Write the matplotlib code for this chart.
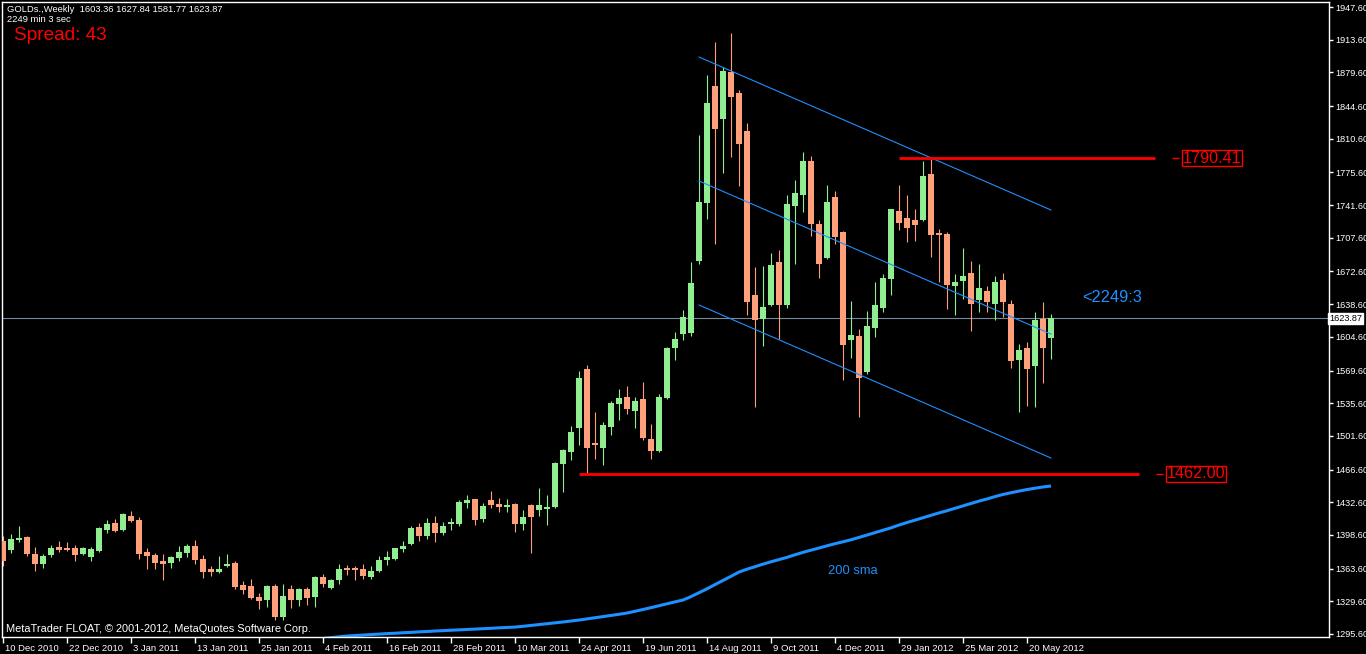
import matplotlib
matplotlib.use("Agg")
import matplotlib.pyplot as plt
import matplotlib.transforms as mtransforms

plt.rcParams["font.family"] = ["Liberation Sans", "DejaVu Sans"]

# Weekly OHLC, bar 0 = 10 Dec 2010, last bar = current week
opens = [
    1392.3, 1382.9, 1393.3, 1396.4, 1378.7, 1368.3, 1377.7, 1386.0, 1385.0, 1385.0,
    1378.7, 1375.6, 1381.9, 1403.7, 1411.0, 1403.7, 1418.3, 1414.1, 1380.8, 1377.7,
    1371.5, 1369.4, 1374.6, 1379.8, 1387.1, 1373.5, 1363.1, 1360.0, 1366.3, 1369.4,
    1346.5, 1345.5, 1334.0, 1330.9, 1345.5, 1313.2, 1342.3, 1330.9, 1342.3, 1334.0,
    1354.8, 1343.4, 1351.7, 1364.2, 1364.2, 1363.1, 1354.8, 1361.1, 1372.5, 1373.5,
    1383.9, 1389.1, 1406.8, 1397.5, 1411.0, 1400.6, 1409.9, 1409.9, 1431.8, 1436.0,
    1415.1, 1434.9, 1430.8, 1427.6, 1430.8, 1409.9, 1429.7, 1424.5, 1425.5, 1427.6,
    1472.3, 1484.8, 1509.8, 1571.1, 1494.2, 1489.0, 1510.8, 1534.7, 1542.0, 1527.5,
    1539.9, 1498.3, 1485.9, 1541.0, 1593.0, 1607.5, 1608.6, 1683.5, 1743.8, 1865.5,
    1831.1, 1880.0, 1858.2, 1818.7, 1648.1, 1623.1, 1637.7, 1682.4, 1637.7, 1740.7,
    1752.1, 1787.5, 1721.9, 1686.6, 1750.0, 1713.6, 1601.3, 1605.5, 1568.0, 1613.8,
    1634.6, 1664.7, 1735.5, 1728.2, 1726.1, 1726.1, 1773.9, 1711.5, 1711.5, 1657.5,
    1662.7, 1671.0, 1642.9, 1652.3, 1638.7, 1663.7, 1638.7, 1580.5, 1593.0, 1574.3,
    1623.1, 1603.36,
]
highs = [
    1397.5, 1399.5, 1407.9, 1397.5, 1386.0, 1378.7, 1388.1, 1392.3, 1391.2, 1388.1,
    1386.0, 1386.0, 1406.8, 1414.1, 1415.1, 1421.4, 1423.5, 1417.2, 1385.0, 1379.8,
    1378.7, 1376.7, 1387.1, 1389.1, 1393.3, 1377.7, 1366.3, 1376.7, 1378.7, 1371.5,
    1350.7, 1352.8, 1338.2, 1346.5, 1347.5, 1347.5, 1346.5, 1343.4, 1344.4, 1355.9,
    1357.9, 1352.8, 1368.3, 1367.3, 1366.3, 1368.3, 1366.3, 1376.7, 1381.9, 1385.5,
    1392.3, 1407.9, 1411.0, 1416.2, 1418.3, 1412.0, 1416.2, 1434.9, 1440.1, 1436.5,
    1431.8, 1444.3, 1437.0, 1436.0, 1431.8, 1424.5, 1430.8, 1447.4, 1440.1, 1474.4,
    1487.9, 1511.9, 1569.1, 1575.3, 1526.4, 1516.0, 1537.9, 1550.3, 1553.5, 1542.0,
    1557.6, 1513.9, 1545.1, 1594.0, 1609.6, 1632.5, 1682.4, 1814.5, 1876.9, 1911.2,
    1885.2, 1920.6, 1861.3, 1827.0, 1677.2, 1678.3, 1691.8, 1694.9, 1752.1, 1767.7,
    1796.8, 1792.7, 1726.1, 1762.5, 1756.3, 1714.7, 1641.9, 1612.7, 1631.5, 1661.6,
    1670.0, 1738.0, 1762.5, 1752.1, 1737.5, 1787.5, 1789.5, 1716.7, 1713.6, 1670.0,
    1697.0, 1683.5, 1680.3, 1657.5, 1667.9, 1671.0, 1642.9, 1597.1, 1599.2, 1630.4,
    1640.8, 1627.84,
]
lows = [
    1366.3, 1379.8, 1391.2, 1376.7, 1361.1, 1364.2, 1375.6, 1380.8, 1381.9, 1371.5,
    1377.7, 1371.5, 1380.8, 1400.6, 1401.6, 1403.2, 1412.0, 1373.5, 1363.1, 1363.1,
    1351.7, 1364.2, 1371.5, 1375.6, 1368.3, 1353.8, 1355.9, 1359.0, 1365.2, 1342.3,
    1337.1, 1331.9, 1321.5, 1323.6, 1310.1, 1310.1, 1322.6, 1324.7, 1325.7, 1323.6,
    1344.4, 1342.3, 1347.5, 1356.9, 1351.7, 1352.8, 1352.8, 1360.0, 1367.3, 1373.0,
    1380.8, 1388.5, 1392.3, 1394.3, 1391.2, 1398.5, 1403.7, 1407.9, 1426.6, 1408.9,
    1412.0, 1426.6, 1422.4, 1422.4, 1401.6, 1403.7, 1379.8, 1418.3, 1408.9, 1426.6,
    1443.2, 1476.5, 1492.1, 1463.0, 1477.5, 1471.3, 1502.5, 1518.1, 1524.3, 1509.8,
    1497.3, 1477.5, 1484.8, 1539.9, 1580.5, 1601.3, 1605.5, 1680.3, 1727.1, 1701.1,
    1775.0, 1791.6, 1761.5, 1627.3, 1531.6, 1595.1, 1636.7, 1602.3, 1634.6, 1680.3,
    1734.4, 1709.5, 1665.8, 1685.5, 1701.1, 1559.7, 1582.6, 1521.2, 1565.9, 1604.4,
    1630.4, 1648.1, 1715.7, 1703.2, 1704.3, 1725.5, 1687.6, 1661.6, 1633.5, 1627.3,
    1643.9, 1610.7, 1630.4, 1630.4, 1622.1, 1625.2, 1572.2, 1526.4, 1532.7, 1531.6,
    1556.6, 1581.77,
]
closes = [
    1371.5, 1394.3, 1395.4, 1378.7, 1368.3, 1376.7, 1385.0, 1382.9, 1382.9, 1377.7,
    1385.0, 1383.9, 1405.8, 1409.9, 1402.7, 1420.3, 1413.1, 1378.7, 1376.7, 1369.4,
    1368.3, 1375.6, 1380.8, 1387.1, 1372.5, 1360.0, 1360.0, 1363.1, 1368.3, 1344.4,
    1341.3, 1333.0, 1329.9, 1345.5, 1313.2, 1335.1, 1330.9, 1342.3, 1333.0, 1354.8,
    1347.5, 1351.7, 1363.1, 1362.1, 1362.1, 1355.9, 1361.1, 1372.5, 1375.6, 1385.0,
    1387.1, 1405.8, 1397.5, 1411.0, 1400.6, 1407.9, 1411.0, 1432.8, 1434.9, 1414.1,
    1428.7, 1429.7, 1427.6, 1429.7, 1409.9, 1417.2, 1417.2, 1429.7, 1426.6, 1473.4,
    1486.9, 1505.6, 1561.8, 1489.0, 1492.1, 1512.9, 1535.8, 1541.0, 1529.5, 1537.9,
    1499.4, 1485.9, 1542.0, 1593.0, 1602.3, 1625.2, 1660.6, 1744.8, 1847.8, 1820.7,
    1881.1, 1854.0, 1805.1, 1640.8, 1622.1, 1635.6, 1679.3, 1637.7, 1742.7, 1754.2,
    1787.5, 1721.9, 1680.3, 1744.8, 1708.4, 1596.1, 1606.5, 1561.8, 1615.9, 1637.7,
    1665.8, 1737.5, 1723.0, 1717.8, 1720.9, 1771.9, 1710.5, 1710.5, 1658.5, 1661.6,
    1667.9, 1638.7, 1655.4, 1640.8, 1661.6, 1640.8, 1579.5, 1590.9, 1571.1, 1622.1,
    1593.0, 1623.87,
]

# 200 sma, bars 40..131 (earlier values are below the visible price range)
sma_start = 40
sma_200 = [
    1291.0, 1291.8, 1292.7, 1293.5, 1294.0, 1294.5, 1295.0, 1295.5, 1296.0, 1296.4,
    1296.9, 1297.3, 1297.8, 1298.2, 1298.7, 1299.1, 1299.5, 1299.9, 1300.3, 1300.7,
    1301.1, 1301.5, 1302.0, 1302.4, 1302.8, 1303.6, 1304.5, 1305.4, 1306.3, 1307.2,
    1308.1, 1309.1, 1310.1, 1311.3, 1312.5, 1313.7, 1314.9, 1316.1, 1317.4, 1319.2,
    1321.1, 1323.0, 1325.0, 1327.0, 1329.0, 1330.9, 1334.5, 1338.5, 1342.6, 1347.0,
    1351.3, 1355.6, 1360.0, 1363.0, 1365.6, 1368.2, 1370.7, 1373.0, 1375.3, 1378.0,
    1380.5, 1382.8, 1385.0, 1387.3, 1389.5, 1391.5, 1393.6, 1396.0, 1398.5, 1401.0,
    1403.5, 1406.0, 1408.9, 1411.5, 1414.0, 1416.5, 1419.0, 1421.5, 1423.8, 1426.3,
    1428.8, 1431.3, 1433.8, 1436.0, 1438.5, 1440.7, 1442.5, 1444.2, 1445.8, 1447.2,
    1448.5, 1449.5,
]

date_labels = [
    "10 Dec 2010", "22 Dec 2010", "3 Jan 2011", "13 Jan 2011", "25 Jan 2011",
    "4 Feb 2011", "16 Feb 2011", "28 Feb 2011", "10 Mar 2011", "24 Apr 2011",
    "19 Jun 2011", "14 Aug 2011", "9 Oct 2011", "4 Dec 2011", "29 Jan 2012",
    "25 Mar 2012", "20 May 2012",
]
price_ticks = [
    1947.60, 1913.60, 1879.60, 1844.60, 1810.60, 1775.60, 1741.60, 1707.60,
    1672.60, 1638.60, 1604.60, 1569.60, 1535.60, 1501.60, 1466.60, 1432.60,
    1398.60, 1363.60, 1329.60, 1295.60,
]

# Price channel: start/end bar and price at each end
channel_bars = [87, 131]
channel_upper = [1895.6, 1736.5]
channel_mid = [1766.7, 1607.5]
channel_lower = [1637.7, 1478.6]

level_high = 1790.41
level_low = 1462.00
bid = closes[-1]

UP = "#90ee90"
DOWN = "#ffa07a"
BLUE = "#1e90ff"
RED = "#ff0000"

W, H = 1366, 654


def px(x, y):
    # pixel position (from top-left) -> figure fraction
    return x / W, 1 - y / H


fig = plt.figure(figsize=(W / 100, H / 100), dpi=100, facecolor="black")
ax = fig.add_axes([2 / W, 17 / H, 1327 / W, 635 / H], facecolor="black")

# Candles: wicks then bodies
n = len(opens)
xs = list(range(n))
cols = [UP if c >= o else DOWN for o, c in zip(opens, closes)]
ax.vlines(xs, lows, highs, colors=cols, linewidth=0.8, zorder=2)
bottoms = [min(o, c) for o, c in zip(opens, closes)]
heights = [max(abs(c - o), 1.8) for o, c in zip(opens, closes)]
ax.bar(xs, heights, bottom=bottoms, width=0.66, color=cols, linewidth=0, zorder=3)

# 200 sma
sma_x = list(range(sma_start, sma_start + len(sma_200)))
ax.plot(sma_x, sma_200, color=BLUE, linewidth=2.2, zorder=2, solid_capstyle="butt")

# Channel lines
for line in (channel_upper, channel_mid, channel_lower):
    ax.plot(channel_bars, line, color=BLUE, linewidth=0.8, zorder=4)

# Bid line
ax.axhline(bid, color="#778899", linewidth=0.8, zorder=1)

# Horizontal levels with price labels
ax.hlines(level_high, 112, 144, color=RED, linewidth=2, zorder=4)
ax.hlines(level_low, 72, 142, color=RED, linewidth=2, zorder=4)
for lvl, x0 in ((level_high, 146.1), (level_low, 144.1)):
    ax.hlines(lvl, x0, x0 + 0.9, color=RED, linewidth=1, zorder=4)
    ax.text(x0 + 1.4, lvl, f"{lvl:.2f}", color=RED, fontsize=11.6, ha="left", va="center",
            bbox=dict(facecolor="black", edgecolor=RED, linewidth=1, pad=0.6), zorder=5)

# Axes
ax.set_xlim(-0.125, 165.75)
ax.set_ylim(1292.48, 1952.8)
for s in ax.spines.values():
    s.set_color("white")
    s.set_linewidth(1)

ax.yaxis.tick_right()
ax.set_yticks(price_ticks)
ax.set_yticklabels([f"{p:.2f}" for p in price_ticks])
ax.tick_params(axis="y", colors="white", length=3, width=1, labelsize=6.6, pad=1.5)

ax.set_xticks(range(0, 8 * len(date_labels), 8))
ax.set_xticklabels(date_labels)
ax.tick_params(axis="x", colors="white", length=4, width=1, labelsize=6.8, pad=1)
shift = mtransforms.ScaledTranslation(2 / 100, 0, fig.dpi_scale_trans)
for lbl in ax.get_xticklabels():
    lbl.set_ha("left")
    lbl.set_transform(lbl.get_transform() + shift)

# Current price box on the price scale
ax.text(1.0, bid, f"{bid:.2f}", transform=mtransforms.blended_transform_factory(ax.transAxes, ax.transData),
        ha="left", va="center", fontsize=6.6, color="black",
        bbox=dict(facecolor="white", edgecolor="white", pad=0.6), zorder=6, clip_on=False)

# Overlay texts
header = f"GOLDs.,Weekly  {opens[-1]:.2f} {highs[-1]:.2f} {lows[-1]:.2f} {closes[-1]:.2f}"
fig.text(*px(7, 10), header, color="white", fontsize=6.75, va="center")
fig.text(*px(7, 20), "2249 min 3 sec", color="white", fontsize=6.75, va="center")
fig.text(*px(14, 35), "Spread: 43", color=RED, fontsize=13.7, va="center")
fig.text(*px(6, 629), "MetaTrader FLOAT, \u00a9 2001-2012, MetaQuotes Software Corp.",
         color="white", fontsize=7.9, va="center")
fig.text(*px(1082, 298), "<2249:3", color=BLUE, fontsize=11.8, va="center")
fig.text(*px(828, 571), "200 sma", color=BLUE, fontsize=9.3, va="center")

fig.savefig("out.png", dpi=100, facecolor="black")
